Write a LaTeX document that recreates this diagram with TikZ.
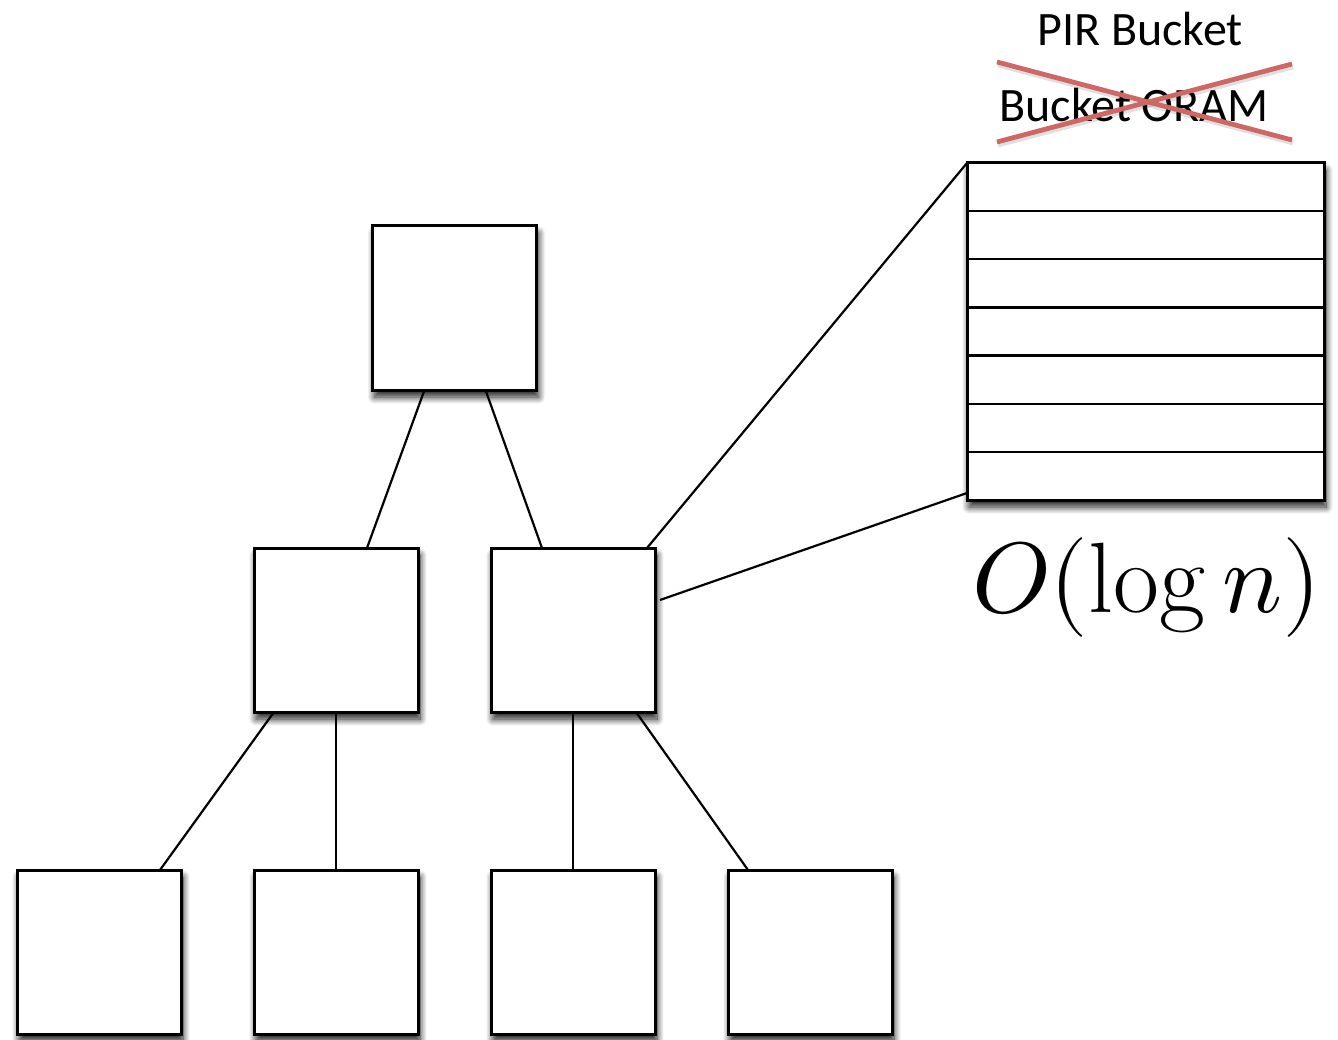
\documentclass[tikz,border=0pt]{standalone}
\usepackage{fontspec}
\setmainfont{Carlito}
\usepackage{unicode-math}
\setmathfont{Latin Modern Math}
\setmathrm{Latin Modern Roman}
\usetikzlibrary{calc,shadows.blur}
\definecolor{crossred}{RGB}{206,104,100}
\tikzset{
  box/.style={draw, fill=white, line width=3pt, minimum width=164pt, minimum height=164pt,
    inner sep=0pt, outer sep=0pt,
    blur shadow={shadow xshift=2pt, shadow yshift=-7pt, shadow blur radius=7pt, shadow blur steps=14, shadow opacity=90}},
  bucketbox/.style={box, minimum width=357pt, minimum height=337pt},
  link/.style={line width=2.2pt},
  rowline/.style={line width=2.2pt},
  cross/.style={line width=4.8pt, color=crossred},
  crossshade/.style={line width=4.8pt, color=black, opacity=0.12},
  label/.style={font=\fontsize{48}{52}\selectfont, inner sep=0pt},
}
\begin{document}
\begin{tikzpicture}[x=1pt, y=-1pt]
\useasboundingbox (0,0) rectangle (1338,1040);

% tree of buckets
\node[box] (root) at (454.5,308) {};
\node[box] (ml) at (336,630) {};
\node[box] (mr) at (573,630) {};
\node[box] (l1) at (99,952) {};
\node[box] (l2) at (336,952) {};
\node[box] (l3) at (573,952) {};
\node[box] (l4) at (810,952) {};

% enlarged view of one bucket
\node[bucketbox] (bucket) at (1145.5,331.5) {};
\foreach \k in {1,...,6}
  \draw[rowline] ($(bucket.north west)!\k/7!(bucket.south west)$) -- ($(bucket.north east)!\k/7!(bucket.south east)$);

% tree edges
\draw[link] ($(root.south)+(-30,0)$) -- ($(ml.north)+(31,0)$);
\draw[link] ($(root.south)+(31,0)$) -- ($(mr.north)+(-31,0)$);
\draw[link] ($(ml.south)+(-62,0)$) -- ($(l1.north)+(61,0)$);
\draw[link] (ml.south) -- (l2.north);
\draw[link] (mr.south) -- (l3.north);
\draw[link] ($(mr.south)+(63,0)$) -- ($(l4.north)+(-62,0)$);

% zoom lines to the enlarged bucket
\draw[link] ($(mr.north east)+(-8,0)$) -- (bucket.north west);
\draw[link] ($(mr.north east)+(5,52)$) -- ($(bucket.south west)+(0,-7)$);

% labels
\node[label] (pir) at (1140,29) {PIR Bucket};
\node[label] (oram) at (1134,105) {Bucket ORAM};
\coordinate (c1) at (997,62);
\coordinate (c2) at (1292,140);
\coordinate (c3) at (997,142);
\coordinate (c4) at (1292,64);
\draw[crossshade] ($(c1)+(1,3)$) -- ($(c2)+(1,3)$);
\draw[crossshade] ($(c3)+(1,3)$) -- ($(c4)+(1,3)$);
\draw[cross] (c1) -- (c2);
\draw[cross] (c3) -- (c4);

\node[inner sep=0pt, anchor=base] (cost) at (1147,612) {\fontsize{100}{104}\selectfont $O(\log n)$};
\end{tikzpicture}
\end{document}
